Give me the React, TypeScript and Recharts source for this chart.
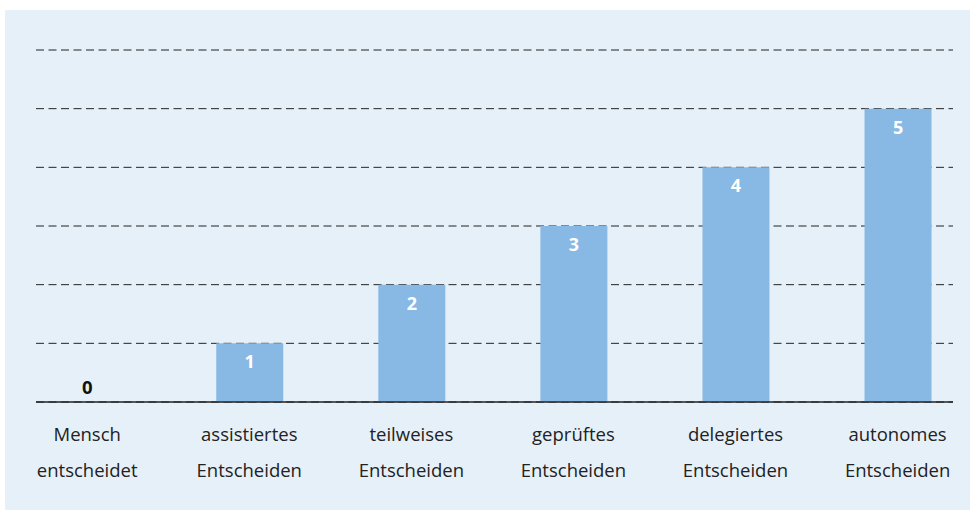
import React from "react";
import { BarChart, Bar, XAxis, YAxis, CartesianGrid, LabelList } from "recharts";

const categoryLine1 = ["Mensch", "assistiertes", "teilweises", "geprüftes", "delegiertes", "autonomes"];
const categoryLine2 = ["entscheidet", "Entscheiden", "Entscheiden", "Entscheiden", "Entscheiden", "Entscheiden"];
const levels = [0, 1, 2, 3, 4, 5];
const yTicks = [0, 1, 2, 3, 4, 5, 6];

const data = levels.map((v, i) => ({ idx: i, value: v }));

const FONT = "'Open Sans', 'Noto Sans', sans-serif";

const Tick = (props: any) => {
  const { x, y, payload } = props;
  const i = payload.value as number;
  return (
    <g>
      {levels[i] === 0 && (
        <text x={x} y={y - 14} textAnchor="middle" fontFamily={FONT} fontSize={18.5} fontWeight={700} fill="#111">
          {levels[i]}
        </text>
      )}
      <text x={x} y={y + 33} textAnchor="middle" fontFamily={FONT} fontSize={18.5} fill="#222">
        {categoryLine1[i]}
      </text>
      <text x={x} y={y + 69} textAnchor="middle" fontFamily={FONT} fontSize={18.5} fill="#222">
        {categoryLine2[i]}
      </text>
    </g>
  );
};

const ValueLabel = (props: any) => {
  const { x, y, width, value } = props;
  if (value === 0) return null;
  const cx = x + width / 2;
  return (
    <text x={cx} y={y + 25} textAnchor="middle" fontFamily={FONT} fontSize={18} fontWeight={700} fill="#ffffff">
      {value}
    </text>
  );
};

export default function App() {
  return (
    <div style={{ position: "absolute", left: 0, top: 0, width: 970, height: 510, background: "#ffffff" }}>
      <div style={{ position: "absolute", left: 5, top: 10, width: 965, height: 500, background: "#e6f0f9" }} />
      <div style={{ position: "absolute", left: 0, top: 0 }}>
        <BarChart
          width={970}
          height={510}
          data={data}
          margin={{ top: 50, right: 17, left: 36, bottom: 28 }}
        >
          <CartesianGrid vertical={false} stroke="#222" strokeDasharray="8 4.5" />
          <XAxis
            type="number"
            dataKey="idx"
            domain={[-0.316, 5.342]}
            ticks={[0, 1, 2, 3, 4, 5]}
            allowDataOverflow
            height={80}
            tickLine={false}
            axisLine={{ stroke: "#222", strokeWidth: 1.5 }}
            tick={<Tick />}
            tickMargin={0}
            interval={0}
          />
          <YAxis hide domain={[0, 6]} ticks={yTicks} />
          <Bar dataKey="value" fill="#88b9e4" barSize={67} isAnimationActive={false}>
            <LabelList dataKey="value" content={<ValueLabel />} />
          </Bar>
        </BarChart>
      </div>
    </div>
  );
}
